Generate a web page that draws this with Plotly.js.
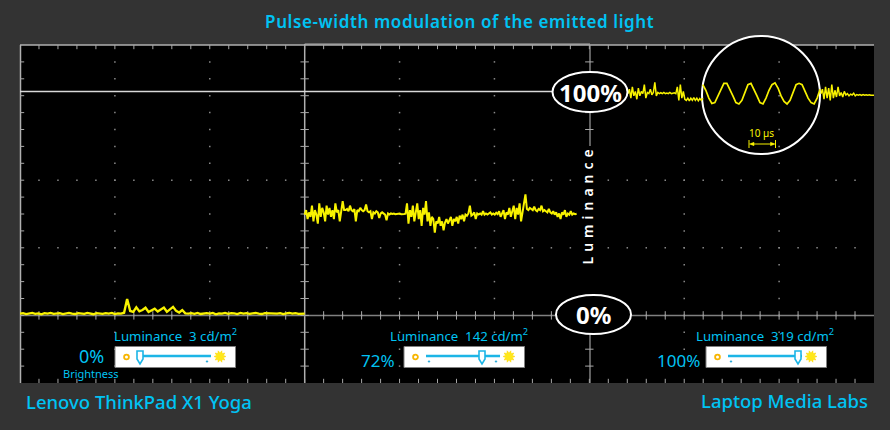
<!DOCTYPE html>
<html><head><meta charset="utf-8">
<script src="https://cdn.plot.ly/plotly-3.0.1.min.js"></script>
<style>html,body{margin:0;padding:0;background:#333333;overflow:hidden}</style>
</head><body><div id="chart" style="width:890px;height:430px"></div>
<script>
// Luminance in % of full scale, one list per scope panel
const lowBrightness = [0.8,1,0.6,0.9,1.1,0.7,0.9,0.5,1,0.8,1.1,0.7,0.9,1,0.6,0.9,1.1,0.8,0.6,1,0.9,0.7,1.1,0.8,0.5,1,0.9,0.7,1,0.8,1.1,0.6,0.9,0.8,
 1.2,7.3,2,1.6,3.6,1.8,2.4,3.4,1.5,2.2,3,1.7,2.6,3.5,1.6,2.5,3.8,2,1.3,2.4,0.9,
 0.8,1,0.7,1.1,0.6,0.9,1,0.8,1.1,0.5,0.9,0.8,1.1,0.7,1,0.9,0.6,1.1,0.8,1,0.7,0.9,1.1,0.8,0.6,1,0.9,1.1,0.7,0.8,1,0.6,0.9,1.1,0.8,1,0.7,0.9,0.8];
const midBrightness = [45,47,43,46,44,49,42,47,45,41,50,44,48,46,42,49,45,48,44,47,43,50,46,47,42,46,51,47,
 47,47.5,46.5,49,47,46.5,47.5,42,47,46.5,48,47,46.5,47,49.5,46.5,46,46.5,43,46,45.5,46.5,46,43.5,45.5,46,45.5,45,42.5,45.5,45,45.5,
 45.3,45.5,45.2,45.4,45.3,45.5,45.2,45.4,45.3,45.4,
 50,41,47,44,49,42,46,50,43,47,40,48,45,51,42,46,40,44,
 43,37,42,41,44,40,42,38,41.5,43,41,42.5,44,40,43,42,44,41,44.5,43,45,42,
 45,44.5,45.5,49,44.5,45,46,43,45.5,45,45.5,45,46.5,45,45.5,45,45.5,46,45,45.5,45,45.8,45.2,46.5,44,45.5,47,43,46,45,48,44,46,
 49,43,48,45,50,42,47,50,
 54,47.5,47,48,47.5,47,48.5,47,46.5,47.5,47,49,46.5,47,46.5,46,47.5,46,45.5,46.5,
 45,46,44,45.5,43,46,45,47,44,45.5,45,46.5,45,45.5,45.2,45.4];
const fullBefore = [99,101,97,102,98,100,96.5,101.5,98,100,99,103,97,99.5,99,101,98.5,99.5,104,98,99.5,99,99.4,99,99.5,99,99.3,99,99.5,99,99.2,99.4,
 99,102,96,103,97,100,96.5,96,97,95.8,97,96,97.2,96,97,95.8,96.8,96,97];
const fullWave = [103,100.5,97,94.6,95,98,101,103.6,103.6,101,98,95,94.4,96,99.5,103,103.6,101,98,95,94.4,97,100.5,103,103.8,101.5,98,95.5,94.4,96,99.5,103,103.6,103,100,97,95,94.4,97,101];
const fullAfter = [99,101,96.5,102,97,101.5,96,103,97,100.5,97.5,102,98,99.5,97.5,100,98.4,99,98,98.8,98.4,99.2,98,98.6,98.3,98.6,98.2,98.6,98.3,98.5,98.3,98.5,98.3,98.4,98.3];

const titleText = 'Pulse-width modulation of the emitted light';
const panelLuminance = ['Luminance  3 cd/m<sup>2</sup>','Luminance  142 cd/m<sup>2</sup>','Luminance  319 cd/m<sup>2</sup>'];
const panelBrightness = ['0%','72%','100%'];

const W=890,H=430,L=20,R=874,T=45,B=383;
const px=v=>(v-L)/(R-L), py=v=>(B-v)/(B-T);
const yTop=(315.4-T)/2.24, yBot=(315.4-B)/2.24, yStep=16.9/2.24;
const CYAN='#00C3F3', YEL='#F8F200', FRAME='#b0b0b0';
const toPx=x=>L+x*(R-L)/45;

// scope graticule
const tx=[],ty=[],ty2x=[],ty2y=[],dx=[],dy=[];
const inCircle=x=>{const p=toPx(x);return p>716&&p<806;};
for(let i=1;i<45;i++){
  if(!inCircle(i)){tx.push(i);ty.push(yTop);}
  tx.push(i);ty.push(yBot);
  if(i%15) {tx.push(i);ty.push(0);}
}
for(let k=-3;k<16;k++){
  const v=k*yStep, yp=315.4-k*16.9;
  [0,15,30].forEach(c=>{ if(c===30&&yp>146&&yp<296)return; ty2x.push(c);ty2y.push(v); });
}
[4,8,12].forEach(r=>{for(let i=1;i<45;i++){ if(i===30||i===15)continue; dx.push(i);dy.push(r*yStep-4*yStep+0);}});
for(let c of [5,10,20,25,35,40]) for(let k=-3;k<16;k++){dx.push(c);dy.push(k*yStep);}

const common={mode:'lines',type:'scatter',hoverinfo:'skip',showlegend:false};
const traces=[
 {...common,x:[0,28.4],y:[100,100],line:{color:'#d8d8d8',width:1.5}},
 {...common,x:[0,45],y:[0,0],line:{color:'#808080',width:1.5}},
 {type:'scatter',mode:'markers',x:dx,y:dy,hoverinfo:'skip',showlegend:false,marker:{symbol:'square',size:1.5,color:'#8a8a8a'}},
 {type:'scatter',mode:'markers',x:tx,y:ty,hoverinfo:'skip',showlegend:false,marker:{symbol:'line-ns',size:6,line:{color:'#a8a8a8',width:1}}},
 {type:'scatter',mode:'markers',x:ty2x,y:ty2y,hoverinfo:'skip',showlegend:false,marker:{symbol:'line-ew',size:6,line:{color:'#a8a8a8',width:1}}},
 {...common,x0:0,dx:15/(lowBrightness.length-1),y:lowBrightness,line:{color:YEL,width:2.4}},
 {...common,x0:15,dx:14.33/(midBrightness.length-1),y:midBrightness,line:{color:YEL,width:2}},
 {...common,x0:32.03,dx:3.95/(fullBefore.length-1),y:fullBefore,line:{color:YEL,width:1.5}},
 {...common,x0:35.98,dx:0.1585,y:fullWave,line:{color:YEL,width:1.7}},
 {...common,x0:42.2,dx:2.8/(fullAfter.length-1),y:fullAfter,line:{color:YEL,width:1.5}}
];

const pl=(x0,y0,x1,y1,color,width,layer)=>({type:'line',xref:'paper',yref:'paper',x0:px(x0),y0:py(y0),x1:px(x1),y1:py(y1),line:{color,width},layer:layer||'below'});
const ell=(cx,cy,rx,ry,fill,line,width,layer)=>({type:'circle',xref:'paper',yref:'paper',x0:px(cx-rx),x1:px(cx+rx),y0:py(cy+ry),y1:py(cy-ry),fillcolor:fill,line:{color:line,width},layer:layer||'above'});
const poly=(pts,fill,line,width)=>({type:'path',xref:'paper',yref:'paper',layer:'above',path:'M'+pts.map(p=>px(p[0])+','+py(p[1])).join('L')+'Z',fillcolor:fill,line:{color:line,width}});

const shapes=[
 pl(L,T,R,T,FRAME,1.5),
 pl(L+.5,T,L+.5,B,FRAME,1.5),
 pl(304.7,T-1,304.7,B,FRAME,1.5),
 pl(304.7,T-1,590,T-1,FRAME,1),
 pl(590,T,590,146,'#a0a0a0',1.2),
 pl(590,296,590,B,'#a0a0a0',1.2),
 ell(761,95,59,59,'#000000','#ffffff',2,'below'),
 ell(590,92,37.5,20,'#000000','#ffffff',2),
 ell(593.5,314.5,37.5,19.5,'#000000','#ffffff',2),
 pl(749,140,749,148,YEL,1,'above'),
 pl(775.5,140,775.5,148,YEL,1,'above'),
 pl(751,144,774,144,YEL,1,'above'),
 poly([[749.5,144],[754,142.3],[754,145.7]],YEL,YEL,0.5),
 poly([[775,144],[770.5,142.3],[770.5,145.7]],YEL,YEL,0.5)
];
const SLIDER='#1cb5e6';
const sun=(cx,cy)=>{const p=[];for(let i=0;i<20;i++){const a=i*Math.PI/10,r=i%2?3.6:6;p.push([cx+r*Math.cos(a),cy+r*Math.sin(a)]);}return poly(p,'#FFE81A','#FFD400',0.5);};
[[115,25],[404,78],[706,92]].forEach(([b,t])=>{
  shapes.push({type:'rect',xref:'paper',yref:'paper',layer:'above',x0:px(b),x1:px(b+120.5),y0:py(367.5),y1:py(346.5),fillcolor:'#ffffff',line:{color:'#808080',width:1}});
  shapes.push(ell(b+11.5,357,2.4,2.4,'#ffffff','#F7B500',1.8));
  shapes.push(pl(b+22,356,b+96,356,SLIDER,2.5,'above'));
  shapes.push(sun(b+105,356.5));
  [25,92].forEach(d=>{ if(Math.abs(d-t)>4) shapes.push(ell(b+d,361.5,0.8,0.8,'#0a9ad0','#0a9ad0',0.5)); });
  const c=b+t;
  shapes.push(poly([[c-3,351],[c+3,351],[c+3,359],[c,364],[c-3,359]],'#ffffff',SLIDER,1.6));
});

const FAM='"Noto Sans", "Open Sans", sans-serif';
const ann=(text,x,y,size,color,anchor,extra)=>Object.assign({text,xref:'paper',yref:'paper',x:px(x),y:py(y),xanchor:anchor||'center',yanchor:'middle',showarrow:false,font:{family:FAM,size,color}},extra||{});
const annotations=[
 ann(titleText,459,22,17,CYAN,'center',{font:{family:FAM,size:17,color:CYAN,weight:600}}),
 ann('Lenovo ThinkPad X1 Yoga',24,401,18.5,CYAN,'left',{font:{family:FAM,size:18.5,color:CYAN,weight:500}}),
 ann('Laptop Media Labs',870,400,18.5,CYAN,'right',{font:{family:FAM,size:18.5,color:CYAN,weight:500}}),
 ann('100%',590,92,24,'#ffffff','center',{font:{family:FAM,size:24,color:'#ffffff',weight:700}}),
 ann('0%',593.5,314,24,'#ffffff','center',{font:{family:FAM,size:24,color:'#ffffff',weight:700}}),
 ann('Luminance',587,205,14,'#ffffff','center',{textangle:-90,font:{family:FAM,size:14,color:'#ffffff',weight:600}}),
 ann('10 µs',761,133,10,YEL,'center'),
 ann(panelLuminance[0],175.5,335,13.2,CYAN),
 ann(panelLuminance[1],459,335,13.2,CYAN),
 ann(panelLuminance[2],765,335,13.2,CYAN),
 ann(panelBrightness[0],91,356,18,CYAN),
 ann('Brightness',91,373,11,CYAN),
 ann(panelBrightness[1],397,360,17,CYAN,'right'),
 ann(panelBrightness[2],702,360,17,CYAN,'right')
];

Plotly.newPlot('chart',traces,{
 width:W,height:H,margin:{l:L,r:W-R,t:T,b:H-B,pad:0},
 paper_bgcolor:'#333333',plot_bgcolor:'#000000',showlegend:false,
 xaxis:{range:[0,45],visible:false,fixedrange:true},
 yaxis:{range:[yBot,yTop],visible:false,fixedrange:true},
 shapes,annotations
},{displayModeBar:false,staticPlot:true}).then(()=>{
 const spacing={0:'0.6px',5:'5px'};
 document.querySelectorAll('.annotation').forEach(a=>{
   const i=a.getAttribute('data-index');
   if(spacing[i]) a.querySelectorAll('text').forEach(t=>t.style.letterSpacing=spacing[i]);
 });
});
</script></body></html>
